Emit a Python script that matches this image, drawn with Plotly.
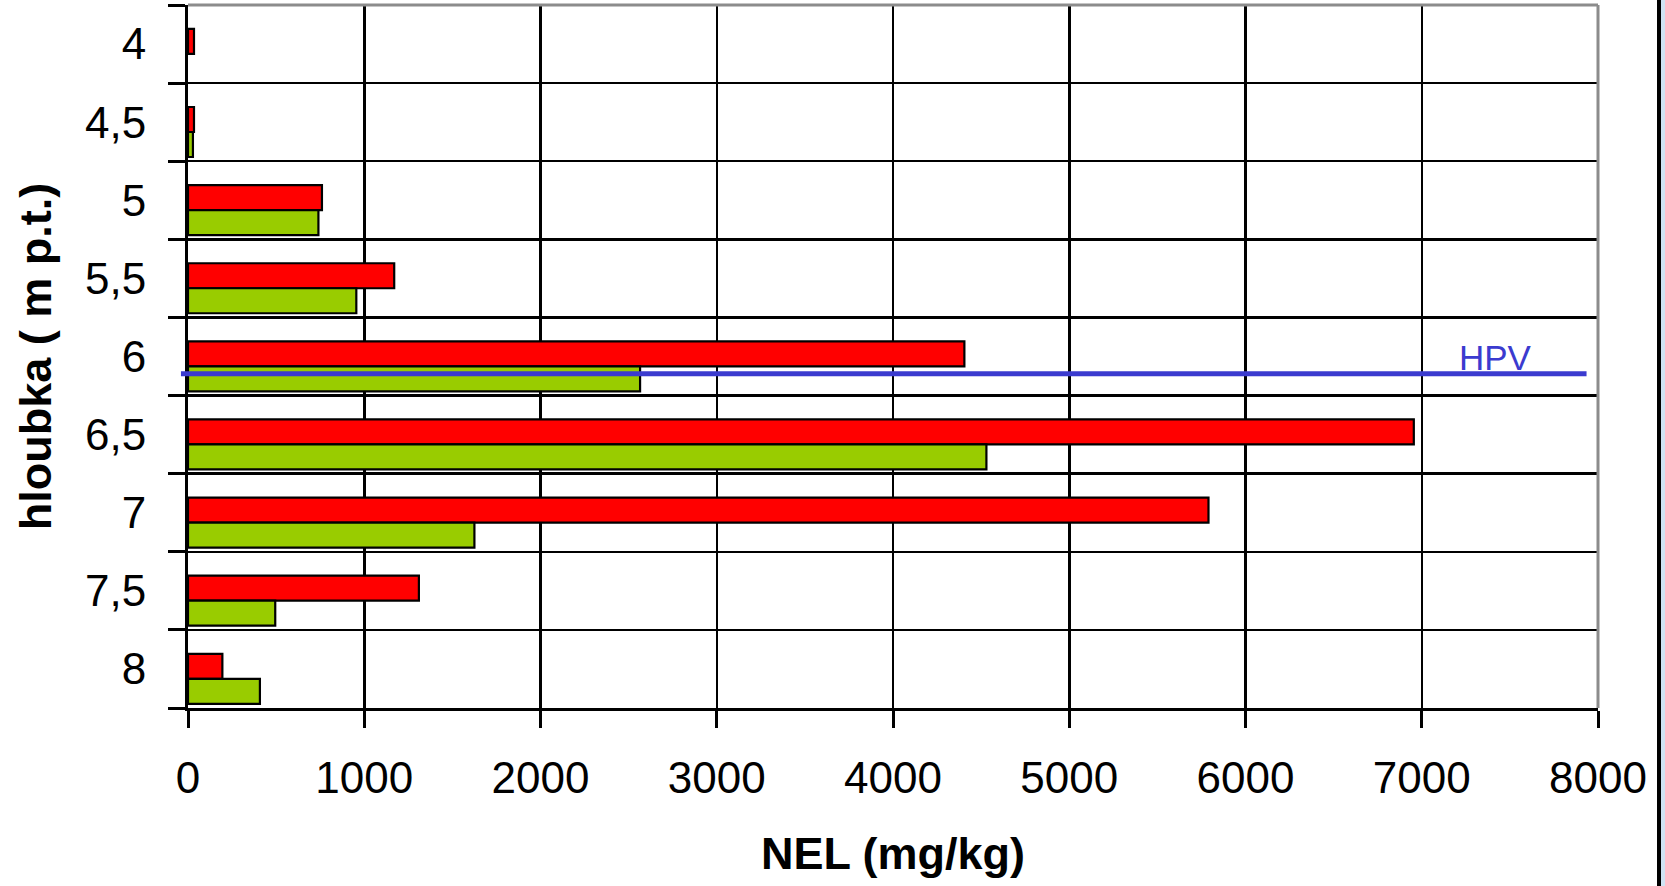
import plotly.graph_objects as go

depths = [4.0, 4.5, 5.0, 5.5, 6.0, 6.5, 7.0, 7.5, 8.0]
depth_labels = ["4", "4,5", "5", "5,5", "6", "6,5", "7", "7,5", "8"]
red_values = [34, 34, 760, 1170, 4405, 6955, 5790, 1310, 195]
green_values = [None, 28, 740, 955, 2565, 4530, 1625, 495, 408]
hpv_depth = 6.11
hpv_x_start = -40
hpv_x_end = 7935
hpv_label_x = 7420
x_max = 8000

W, H = 1665, 886
L, R, T, B = 188, 67, 5, 178
font = "Liberation Sans"

fig = go.Figure()
fig.add_trace(go.Bar(
    y=depths, x=red_values, orientation="h",
    marker=dict(color="#ff0000", line=dict(color="black", width=2.2)),
    width=0.16, offset=-0.097, showlegend=False, hoverinfo="skip",
))
fig.add_trace(go.Bar(
    y=depths, x=green_values, orientation="h",
    marker=dict(color="#99cc00", line=dict(color="black", width=2.2)),
    width=0.16, offset=0.063, showlegend=False, hoverinfo="skip",
))

pw = W - L - R
ph = H - T - B
def px_to_paper_x(px):
    return (px - L) / pw
def px_to_paper_y(py):
    return (H - B - py) / ph

shapes = [
    # gray frame top and right
    dict(type="line", xref="paper", yref="paper", x0=0, x1=1, y0=1, y1=1,
         line=dict(color="#8c8c8c", width=3), layer="above"),
    dict(type="line", xref="paper", yref="paper", x0=1, x1=1, y0=0, y1=1,
         line=dict(color="#8c8c8c", width=3), layer="above"),
    # HPV line
    dict(type="line", xref="paper", yref="y",
         x0=hpv_x_start / x_max, x1=hpv_x_end / x_max, y0=hpv_depth, y1=hpv_depth,
         line=dict(color="#3b3bcf", width=5), layer="above"),
    # screenshot edge at right
    dict(type="rect", xref="paper", yref="paper",
         x0=px_to_paper_x(1661), x1=px_to_paper_x(1668),
         y0=px_to_paper_y(H + 2), y1=px_to_paper_y(-2),
         fillcolor="#cfe3f3", line=dict(width=0), layer="above"),
    dict(type="line", xref="paper", yref="paper",
         x0=px_to_paper_x(1659), x1=px_to_paper_x(1659),
         y0=px_to_paper_y(H + 2), y1=px_to_paper_y(-2),
         line=dict(color="black", width=4), layer="above"),
]

fig.add_annotation(
    x=hpv_label_x, y=hpv_depth, xref="x", yref="y", text="HPV",
    showarrow=False, yanchor="bottom", yshift=-5,
    font=dict(family=font, size=35, color="#3b3bcf"),
)

fig.update_layout(
    width=W, height=H,
    margin=dict(l=L, r=R, t=T, b=B),
    paper_bgcolor="white", plot_bgcolor="white",
    barmode="overlay",
    shapes=shapes,
    font=dict(family=font, color="black"),
    xaxis=dict(
        range=[0, x_max], tickmode="linear", tick0=0, dtick=1000,
        showgrid=True, gridcolor="black", gridwidth=2.5,
        showline=True, linecolor="black", linewidth=3,
        ticks="outside", ticklen=17, tickwidth=3, tickcolor="black",
        tickfont=dict(size=44, family=font),
        ticklabelstandoff=12,
        zeroline=False,
        title=dict(text="<b>NEL (mg/kg)</b>", font=dict(size=45, family=font), standoff=37),
    ),
    yaxis=dict(
        range=[8.25, 3.75],
        tickmode="array", tickvals=depths, ticktext=depth_labels,
        showgrid=False, ticks="",
        tickfont=dict(size=44, family=font),
        ticklabelstandoff=30,
        showline=True, linecolor="black", linewidth=3,
        zeroline=False,
        minor=dict(tickmode="linear", tick0=3.75, dtick=0.5, showgrid=True,
                   gridcolor="black", gridwidth=2.5,
                   ticks="outside", ticklen=17, tickwidth=3, tickcolor="black"),
        title=dict(text="<b>hloubka ( m p.t.)</b>", font=dict(size=45, family=font), standoff=20),
    ),
)

fig.write_html(
    "out.html",
    config={"displayModeBar": False, "staticPlot": True},
    post_script="document.body.style.margin='0';document.body.style.overflow='hidden';",
)
